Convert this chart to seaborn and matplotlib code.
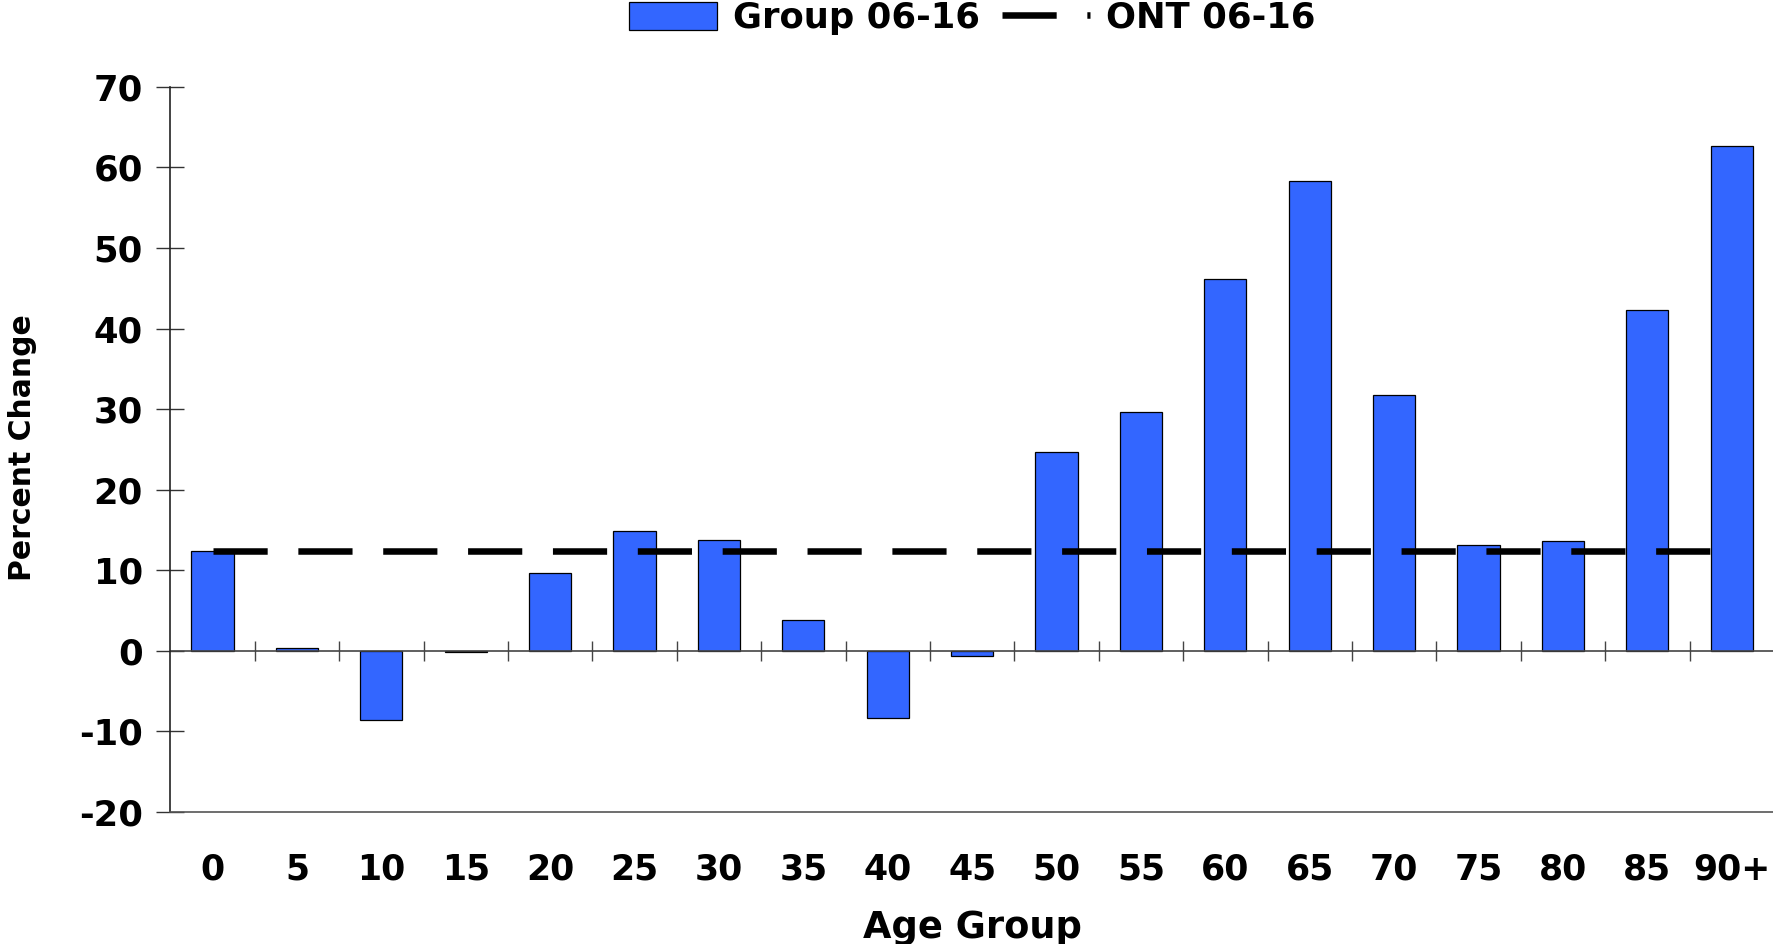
import numpy as np
import pandas as pd
import seaborn as sns
import matplotlib.pyplot as plt

# values
age_groups = ['0', '5', '10', '15', '20', '25', '30', '35', '40', '45',
              '50', '55', '60', '65', '70', '75', '80', '85', '90+']
group_change = [12.4, 0.4, -8.6, -0.2, 9.6, 14.9, 13.8, 3.8, -8.3, -0.6,
                24.7, 29.6, 46.2, 58.3, 31.7, 13.1, 13.6, 42.3, 62.6]
ont_change = [12.4] * len(age_groups)

y_ticks = [-20, -10, 0, 10, 20, 30, 40, 50, 60, 70]

bar_color = '#3366FF'

df = pd.DataFrame({'age': age_groups, 'group': group_change, 'ont': ont_change})

sns.set_style('white')
plt.rcParams['font.family'] = ['DejaVu Sans']
plt.rcParams['font.weight'] = 'bold'
plt.rcParams['text.color'] = 'black'
plt.rcParams['xtick.color'] = 'black'
plt.rcParams['ytick.color'] = 'black'
plt.rcParams['axes.labelcolor'] = 'black'
plt.rcParams['axes.unicode_minus'] = False

fig = plt.figure(figsize=(17.74, 9.44), dpi=100)
ax = fig.add_axes([0.096, 0.140, 0.904, 0.768])

sns.barplot(data=df, x='age', y='group', order=age_groups, color=bar_color,
            saturation=1, width=0.5, edgecolor='black', linewidth=0.9,
            label='Group 06-16', ax=ax)

ont_dash = (8.3, 4.7)
sns.lineplot(x=np.arange(len(age_groups)), y=df['ont'], color='black',
             linewidth=4.7, label='ONT 06-16', ax=ax)
ax.lines[-1].set_dashes(ont_dash)

# zero line with category separators
ax.axhline(0, color='#444444', linewidth=1.2, zorder=1)
ax.vlines(np.arange(1, len(age_groups)) - 0.5, -1.25, 1.25,
          color='#444444', linewidth=1.0)

ax.set_xlim(-0.5, len(age_groups) - 0.5)
ax.set_ylim(y_ticks[0], y_ticks[-1])
ax.set_yticks(y_ticks)
ax.tick_params(axis='y', direction='inout', length=19.5, width=1.0,
               labelsize=25.5, pad=10, color='#333333', labelcolor='black', left=True)
ax.tick_params(axis='x', length=0, labelsize=25, pad=29, labelcolor='black')
for lbl in ax.get_xticklabels() + ax.get_yticklabels():
    lbl.set_fontweight('bold')

for side in ['top', 'right']:
    ax.spines[side].set_visible(False)
ax.spines['left'].set_color('#222222')
ax.spines['left'].set_linewidth(1.2)
ax.spines['bottom'].set_color('#555555')
ax.spines['bottom'].set_linewidth(1.2)

ax.set_xlabel('Age Group', fontsize=26.5, fontweight='bold')
ax.xaxis.set_label_coords(0.5, -0.134)
ax.set_ylabel('Percent Change', fontsize=21.5, fontweight='bold')
ax.yaxis.set_label_coords(-0.083, 0.503)

handles, labels = ax.get_legend_handles_labels()
order = [labels.index('Group 06-16'), labels.index('ONT 06-16')]
if ax.legend_:
    ax.legend_.remove()
fig.legend([handles[i] for i in order], [labels[i] for i in order],
           loc='center', bbox_to_anchor=(0.548, 0.981),
           ncol=2, frameon=False, handlelength=2.5,
           handleheight=0.85, handletextpad=0.45, columnspacing=0.6,
           prop={'weight': 'bold', 'size': 25.5})

fig.savefig('out.png', dpi=100)
